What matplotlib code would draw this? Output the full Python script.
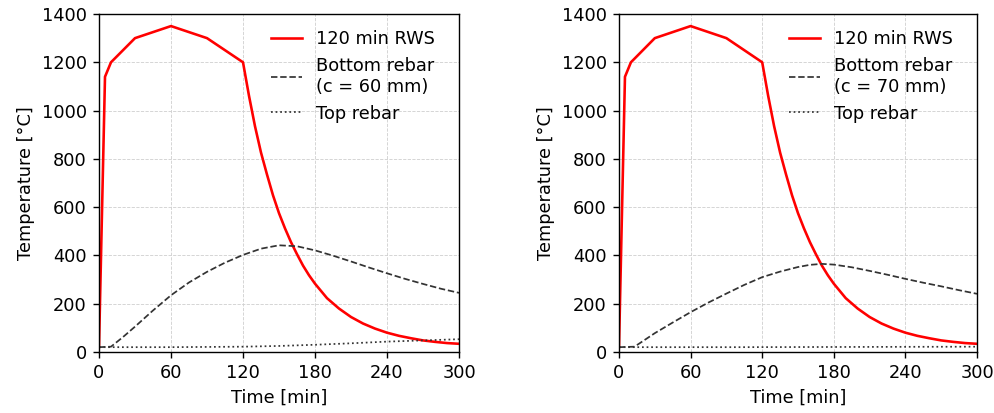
import matplotlib
matplotlib.use("Agg")
import matplotlib.pyplot as plt

# RWS fire curve (same for both panels)
t_rws = [0, 5, 10, 30, 60, 90, 120, 125, 130, 135, 140, 145, 150, 155, 160, 165, 170, 175, 180,
         190, 200, 210, 220, 230, 240, 250, 260, 270, 280, 290, 300]
T_rws = [20, 1140, 1200, 1300, 1350, 1300, 1200, 1061, 935, 826, 735, 649, 575, 512, 455, 405,
         358, 318, 283, 223, 180, 145, 118, 97, 80, 67, 57, 48, 42, 37, 34]

# Bottom rebar c = 60 mm
t_b60 = [0, 10, 20, 30, 45, 60, 75, 90, 105, 120, 135, 150, 165, 180, 195, 210, 225, 240, 255, 270, 285, 300]
T_b60 = [20, 22, 62, 105, 172, 235, 288, 332, 370, 402, 428, 442, 438, 421, 399, 375, 350, 326, 303, 282, 262, 245]
# Top rebar (left)
t_t60 = [0, 60, 120, 150, 180, 210, 240, 270, 300]
T_t60 = [20, 20, 22, 25, 30, 36, 43, 48, 53]

# Bottom rebar c = 70 mm
t_b70 = [0, 13, 20, 30, 45, 60, 75, 90, 105, 120, 135, 150, 160, 170, 180, 195, 210, 225, 240, 255, 270, 285, 300]
T_b70 = [20, 22, 45, 78, 122, 165, 205, 242, 278, 310, 333, 352, 361, 365, 362, 351, 336, 320, 303, 287, 272, 256, 241]
# Top rebar (right)
t_t70 = [0, 100, 200, 300]
T_t70 = [20, 20, 21, 22]

panels = [
    (t_b60, T_b60, t_t60, T_t60, "Bottom rebar\n(c = 60 mm)"),
    (t_b70, T_b70, t_t70, T_t70, "Bottom rebar\n(c = 70 mm)"),
]

plt.rcParams['font.family'] = ['DejaVu Sans']
plt.rcParams['font.size'] = 10.25

DPI = 125
fig = plt.figure(figsize=(994 / DPI, 413 / DPI), dpi=DPI)
W, H = 994, 413
positions = [[99 / W, 1 - 352 / H, 360 / W, 338 / H], [619 / W, 1 - 352 / H, 358 / W, 338 / H]]

for pos, (tb, Tb, tt, Tt, lab) in zip(positions, panels):
    ax = fig.add_axes(pos)
    ax.plot(t_rws, T_rws, color='red', lw=1.5, label='120 min RWS')
    ax.plot(tb, Tb, color='#333333', lw=1.0, ls='--', label=lab)
    ax.plot(tt, Tt, color='#333333', lw=1.0, ls=':', label='Top rebar')
    ax.set_xlim(0, 300)
    ax.set_ylim(0, 1400)
    ax.set_xticks([0, 60, 120, 180, 240, 300])
    ax.set_yticks(range(0, 1401, 200))
    ax.grid(True, ls='--', color='#d0d0d0', lw=0.5)
    ax.set_xlabel('Time [min]')
    ax.set_ylabel('Temperature [°C]')
    ax.legend(loc='upper right', frameon=False, handlelength=1.75,
              bbox_to_anchor=(1 - 8 / (pos[2] * W), 1.0))

fig.savefig('out.png', dpi=DPI)
